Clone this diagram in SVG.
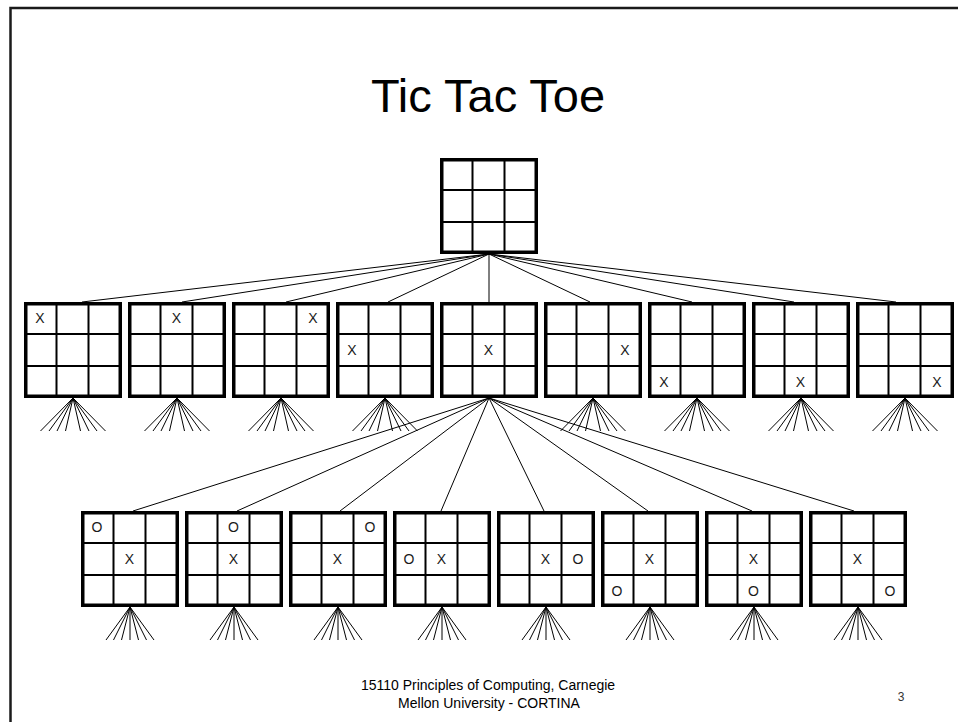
<svg xmlns="http://www.w3.org/2000/svg" xmlns:xlink="http://www.w3.org/1999/xlink" width="958" height="722" viewBox="0 0 958 722">
<style>
.outer{fill:#fff;stroke:#000;stroke-width:3.5}
.grid{stroke:#000;stroke-width:2;fill:none}
.mk{font-family:"Liberation Sans",Arial,sans-serif;font-size:14px;fill:#1a1a1a;text-anchor:middle}
.conn line{stroke:#000;stroke-width:1}
.fan line{stroke:#000;stroke-width:1}
.title{font-family:"Liberation Sans",Arial,sans-serif;font-size:47px;fill:#000;text-anchor:middle}
.foot{font-family:"Liberation Sans",Arial,sans-serif;font-size:14px;fill:#000;text-anchor:middle}
</style>
<defs>
<g id="board">
<rect class="outer" x="1.75" y="1.75" width="94.5" height="92.5"/>
<path class="grid" d="M32.5 0V96M64.5 0V96M0 32H98M0 64H98"/>
</g>
<g id="fan8" class="fan">
<line x1="0" y1="0" x2="-32.5" y2="33"/><line x1="0" y1="0" x2="-24" y2="33"/><line x1="0" y1="0" x2="-16" y2="33"/><line x1="0" y1="0" x2="-7.5" y2="33"/>
<line x1="0" y1="0" x2="7.5" y2="33"/><line x1="0" y1="0" x2="16" y2="33"/><line x1="0" y1="0" x2="24" y2="33"/><line x1="0" y1="0" x2="32.5" y2="33"/>
</g>
<g id="fan7" class="fan">
<line x1="0" y1="0" x2="-24" y2="33"/><line x1="0" y1="0" x2="-16.5" y2="33"/><line x1="0" y1="0" x2="-8.5" y2="33"/><line x1="0" y1="0" x2="0" y2="33"/>
<line x1="0" y1="0" x2="8.5" y2="33"/><line x1="0" y1="0" x2="16.5" y2="33"/><line x1="0" y1="0" x2="24" y2="33"/>
</g>
</defs>
<rect x="0" y="0" width="958" height="722" fill="#fff"/>
<rect x="10.5" y="8" width="1000" height="1000" fill="none" stroke="#1a1a1a" stroke-width="2.5"/>
<text class="title" x="488" y="112">Tic Tac Toe</text>

<g id="connectors" class="conn">
<line x1="489" y1="254" x2="82" y2="302"/>
<line x1="489" y1="254" x2="182" y2="302"/>
<line x1="489" y1="254" x2="286" y2="302"/>
<line x1="489" y1="254" x2="388" y2="302"/>
<line x1="489" y1="254" x2="489" y2="302"/>
<line x1="489" y1="254" x2="590" y2="302"/>
<line x1="489" y1="254" x2="692" y2="302"/>
<line x1="489" y1="254" x2="794" y2="302"/>
<line x1="489" y1="254" x2="896" y2="302"/>
<line x1="489" y1="398" x2="133" y2="511"/>
<line x1="489" y1="398" x2="237" y2="511"/>
<line x1="489" y1="398" x2="340" y2="511"/>
<line x1="489" y1="398" x2="441" y2="511"/>
<line x1="489" y1="398" x2="544" y2="511"/>
<line x1="489" y1="398" x2="648" y2="511"/>
<line x1="489" y1="398" x2="752" y2="511"/>
<line x1="489" y1="398" x2="854" y2="511"/>
<use xlink:href="#fan8" href="#fan8" x="73" y="398"/>
<use xlink:href="#fan8" href="#fan8" x="177" y="398"/>
<use xlink:href="#fan8" href="#fan8" x="281" y="398"/>
<use xlink:href="#fan8" href="#fan8" x="385" y="398"/>
<use xlink:href="#fan8" href="#fan8" x="593" y="398"/>
<use xlink:href="#fan8" href="#fan8" x="697" y="398"/>
<use xlink:href="#fan8" href="#fan8" x="801" y="398"/>
<use xlink:href="#fan8" href="#fan8" x="905" y="398"/>
<use xlink:href="#fan7" href="#fan7" x="130" y="607"/>
<use xlink:href="#fan7" href="#fan7" x="234" y="607"/>
<use xlink:href="#fan7" href="#fan7" x="338" y="607"/>
<use xlink:href="#fan7" href="#fan7" x="442" y="607"/>
<use xlink:href="#fan7" href="#fan7" x="546" y="607"/>
<use xlink:href="#fan7" href="#fan7" x="650" y="607"/>
<use xlink:href="#fan7" href="#fan7" x="754" y="607"/>
<use xlink:href="#fan7" href="#fan7" x="858" y="607"/>
</g>

<g id="root" transform="translate(440,158)"><use xlink:href="#board" href="#board"/></g>

<g id="r1b1" transform="translate(24,302)"><use xlink:href="#board" href="#board"/><text class="mk" x="16" y="21">X</text></g>
<g id="r1b2" transform="translate(128,302)"><use xlink:href="#board" href="#board"/><text class="mk" x="48.5" y="21">X</text></g>
<g id="r1b3" transform="translate(232,302)"><use xlink:href="#board" href="#board"/><text class="mk" x="81" y="21">X</text></g>
<g id="r1b4" transform="translate(336,302)"><use xlink:href="#board" href="#board"/><text class="mk" x="16" y="53">X</text></g>
<g id="r1b5" transform="translate(440,302)"><use xlink:href="#board" href="#board"/><text class="mk" x="48.5" y="53">X</text></g>
<g id="r1b6" transform="translate(544,302)"><use xlink:href="#board" href="#board"/><text class="mk" x="81" y="53">X</text></g>
<g id="r1b7" transform="translate(648,302)"><use xlink:href="#board" href="#board"/><text class="mk" x="16" y="85">X</text></g>
<g id="r1b8" transform="translate(752,302)"><use xlink:href="#board" href="#board"/><text class="mk" x="48.5" y="85">X</text></g>
<g id="r1b9" transform="translate(856,302)"><use xlink:href="#board" href="#board"/><text class="mk" x="81" y="85">X</text></g>

<g id="r2b1" transform="translate(81,511)"><use xlink:href="#board" href="#board"/><text class="mk" x="48.5" y="53">X</text><text class="mk" x="16" y="21">O</text></g>
<g id="r2b2" transform="translate(185,511)"><use xlink:href="#board" href="#board"/><text class="mk" x="48.5" y="53">X</text><text class="mk" x="48.5" y="21">O</text></g>
<g id="r2b3" transform="translate(289,511)"><use xlink:href="#board" href="#board"/><text class="mk" x="48.5" y="53">X</text><text class="mk" x="81" y="21">O</text></g>
<g id="r2b4" transform="translate(393,511)"><use xlink:href="#board" href="#board"/><text class="mk" x="48.5" y="53">X</text><text class="mk" x="16" y="53">O</text></g>
<g id="r2b5" transform="translate(497,511)"><use xlink:href="#board" href="#board"/><text class="mk" x="48.5" y="53">X</text><text class="mk" x="81" y="53">O</text></g>
<g id="r2b6" transform="translate(601,511)"><use xlink:href="#board" href="#board"/><text class="mk" x="48.5" y="53">X</text><text class="mk" x="16" y="85">O</text></g>
<g id="r2b7" transform="translate(705,511)"><use xlink:href="#board" href="#board"/><text class="mk" x="48.5" y="53">X</text><text class="mk" x="48.5" y="85">O</text></g>
<g id="r2b8" transform="translate(809,511)"><use xlink:href="#board" href="#board"/><text class="mk" x="48.5" y="53">X</text><text class="mk" x="81" y="85">O</text></g>

<text class="foot" x="488" y="690">15110 Principles of Computing, Carnegie</text>
<text class="foot" x="489" y="708">Mellon University - CORTINA</text>
<text class="foot" x="901" y="701" style="font-size:12px;fill:#333">3</text>
</svg>
